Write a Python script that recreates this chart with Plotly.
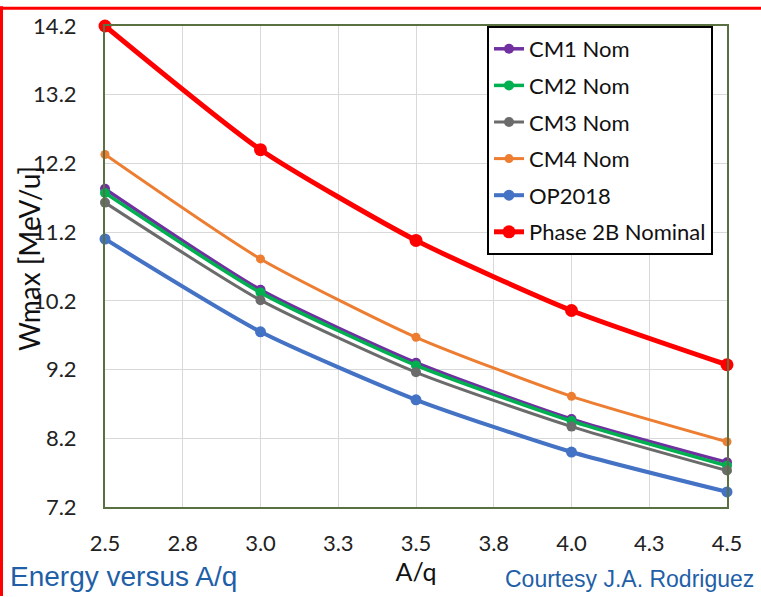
import plotly.graph_objects as go

aq = [2.5, 3.0, 3.5, 4.0, 4.5]
series_names = ["CM1 Nom", "CM2 Nom", "CM3 Nom", "CM4 Nom", "OP2018", "Phase 2B Nominal"]
cm1 = [11.83, 10.36, 9.30, 8.48, 7.85]
cm2 = [11.77, 10.32, 9.26, 8.45, 7.80]
cm3 = [11.63, 10.21, 9.16, 8.37, 7.73]
cm4 = [12.33, 10.81, 9.67, 8.81, 8.15]
op2018 = [11.10, 9.75, 8.76, 8.00, 7.42]
phase2b = [14.20, 12.40, 11.08, 10.06, 9.27]

x_tickvals = [2.5, 2.75, 3.0, 3.25, 3.5, 3.75, 4.0, 4.25, 4.5]
x_ticktext = ["2.5", "2.8", "3.0", "3.3", "3.5", "3.8", "4.0", "4.3", "4.5"]
y_tickvals = [7.2, 8.2, 9.2, 10.2, 11.2, 12.2, 13.2, 14.2]
y_ticktext = ["7.2", "8.2", "9.2", "10.2", "11.2", "12.2", "13.2", "14.2"]

colors = ["#7030a0", "#00b050", "#6b6b6b", "#ed7d31", "#4472c4", "#ff0000"]
widths = [3.5, 3.5, 3, 3, 4, 5]
msizes = [10, 10, 10, 9, 11, 13]
values = [cm1, cm2, cm3, cm4, op2018, phase2b]

fig = go.Figure()
for i, (name, vals, c, w, ms) in enumerate(zip(series_names, values, colors, widths, msizes)):
    fig.add_trace(go.Scatter(
        x=aq, y=vals, name=name, mode="lines+markers", legendgroup=f"g{i}",
        line=dict(color=c, width=w, shape="spline", smoothing=0.6),
        marker=dict(color=c, size=ms),
        cliponaxis=False,
    ))

W, H = 761, 597
ML, MR, MT, MB = 105, 34, 20, 90
pw, ph = W - ML - MR, H - MT - MB

def px_x(p):
    return (p - ML) / pw

def px_y(p):
    return (H - MB - p) / ph

axis_line = "#5b7040"
blue_txt = "#1f5fa8"
fig.update_layout(
    width=W, height=H,
    margin=dict(l=ML, r=MR, t=MT, b=MB),
    paper_bgcolor="white", plot_bgcolor="white",
    font=dict(family="Lato, Open Sans, sans-serif", size=22, color="#222222"),
    showlegend=True,
    legend=dict(
        x=px_x(487), y=px_y(20), xanchor="left", yanchor="top",
        bgcolor="white", bordercolor="black", borderwidth=2,
        font=dict(size=22, color="#111111"),
        tracegroupgap=5, itemwidth=30,
    ),
    xaxis=dict(
        range=[2.5, 4.5], tickvals=x_tickvals, ticktext=x_ticktext,
        showgrid=True, gridcolor="#d9d9d9", gridwidth=1,
        showline=True, linecolor=axis_line, linewidth=2, mirror=True,
        ticks="", ticklabelstandoff=16, zeroline=False,
        title=dict(text="A/q", font=dict(size=25, color="#111111"), standoff=4),
    ),
    yaxis=dict(
        range=[7.2, 14.2], tickvals=y_tickvals, ticktext=y_ticktext,
        showgrid=True, gridcolor="#d9d9d9", gridwidth=1,
        showline=True, linecolor=axis_line, linewidth=2, mirror=True,
        ticks="", ticklabelstandoff=22, zeroline=False,
    ),
    annotations=[
        dict(text="Wmax [MeV/u]", textangle=-90, x=px_x(29), y=px_y(256),
             xanchor="center", yanchor="middle", xref="paper", yref="paper",
             showarrow=False, font=dict(size=28, color="#111111")),
        dict(text="Energy versus A/q", x=px_x(8), y=px_y(577), xanchor="left", yanchor="middle",
             xref="paper", yref="paper", showarrow=False,
             font=dict(family="Liberation Sans, Arial, sans-serif", size=28, color=blue_txt)),
        dict(text="Courtesy J.A. Rodriguez", x=px_x(756), y=px_y(580), xanchor="right", yanchor="middle",
             xref="paper", yref="paper", showarrow=False,
             font=dict(family="Liberation Sans, Arial, sans-serif", size=23, color=blue_txt)),
    ],
)

# red frame on top and left edges of the figure
fig.add_shape(type="line", xref="paper", yref="paper",
              x0=px_x(0), x1=px_x(W), y0=px_y(2), y1=px_y(2),
              line=dict(color="#ff0000", width=3))
fig.add_shape(type="line", xref="paper", yref="paper",
              x0=px_x(1.5), x1=px_x(1.5), y0=px_y(0), y1=px_y(H),
              line=dict(color="#ff0000", width=3))

fig.write_html(
    "out.html",
    config={"displayModeBar": False},
    post_script=(
        "document.documentElement.style.margin='0';"
        "document.body.style.margin='0';document.body.style.padding='0';"
        "var gd=document.getElementById('{plot_id}');"
        "gd.style.position='absolute';gd.style.top='0px';gd.style.left='0px';"
    ),
)
